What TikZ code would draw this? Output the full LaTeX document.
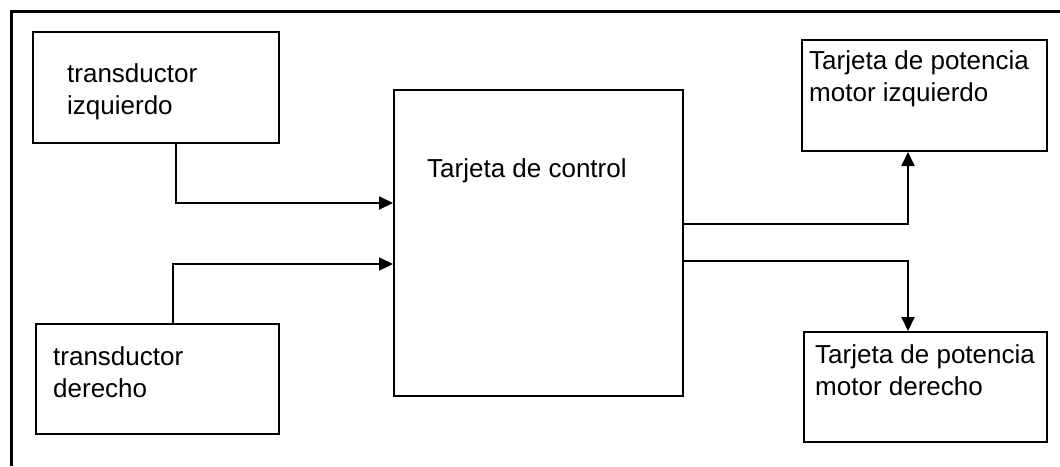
\documentclass[tikz,border=0pt]{standalone}
\usepackage{fontspec}
\setmainfont{Liberation Sans}
\usetikzlibrary{arrows.meta}
\begin{document}
\begin{tikzpicture}[x=1pt,y=-1pt,
  block/.style={draw, line width=2pt, inner sep=0pt, minimum width=#1},
  lbl/.style={anchor=west, inner sep=0pt, align=left,
    font=\fontsize{26}{32}\selectfont},
  link/.style={line width=2pt, -{Triangle[length=14pt,width=13pt]}},
  frameline/.style={line width=3pt}]
  \useasboundingbox (0,0) rectangle (1060,466);
  % outer frame (left and top edges)
  \draw[frameline] (11,466) -- (11,11) -- (1060,11);
  % blocks
  \node[block=246pt, minimum height=111pt] (tizq) at (156,87.5) {};
  \node[block=243pt, minimum height=110pt] (tder) at (157.5,379) {};
  \node[block=289pt, minimum height=306pt] (ctrl) at (538.5,243) {};
  \node[block=245pt, minimum height=111pt] (pizq) at (924.5,95.5) {};
  \node[block=243pt, minimum height=110pt] (pder) at (925.5,387) {};
  % labels
  \node[lbl] (ltizq) at (67,92) {transductor\\izquierdo};
  \node[lbl] (ltder) at (53,372) {transductor\\derecho};
  \node[lbl] (lctrl) at (427,171) {Tarjeta de control};
  \node[lbl] (lpizq) at (809,78.5) {Tarjeta de potencia\\motor izquierdo};
  \node[lbl] (lpder) at (815,370) {Tarjeta de potencia\\motor derecho};
  % bend points of the connectors
  \coordinate (b1) at (176,203);
  \coordinate (b2) at (173,264);
  \coordinate (b3) at (908,224);
  \coordinate (b4) at (908,261);
  % connectors
  \draw[link] (tizq.south -| b1) |- (ctrl.west |- b1);
  \draw[link] (tder.north -| b2) |- (ctrl.west |- b2);
  \draw[link] (ctrl.east |- b3) -| (pizq.south -| b3);
  \draw[link] (ctrl.east |- b4) -| (pder.north -| b4);
\end{tikzpicture}
\end{document}
